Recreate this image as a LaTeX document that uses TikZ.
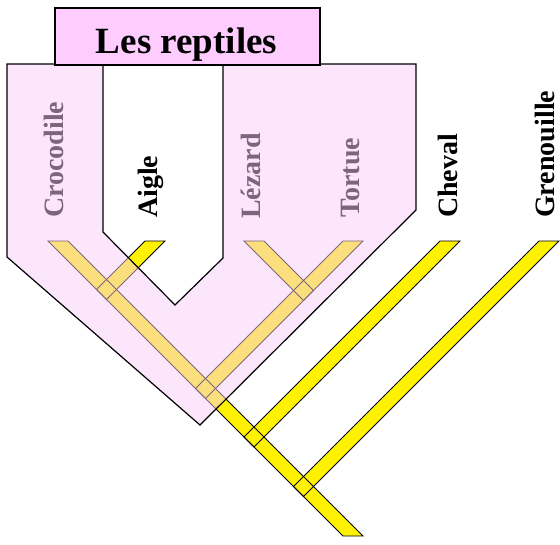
\documentclass[tikz,border=0pt]{standalone}
\usepackage{fontspec}
\setmainfont{Liberation Serif}
\usetikzlibrary{calc}
\definecolor{cladePink}{RGB}{250,205,250}
\definecolor{titlePink}{RGB}{255,204,255}

\begin{document}
\begin{tikzpicture}[x=1pt,y=-1pt]

    \tikzstyle{commonNode}=[font=\bfseries\fontsize{28}{30}\selectfont, inner sep=0pt]
    \tikzstyle{leaf}=[commonNode, rotate=90, anchor=west]
    \tikzstyle{title}=[commonNode, font=\bfseries\fontsize{37}{40}\selectfont, anchor=base]
    \tikzstyle{branch}=[fill=yellow]
    \tikzstyle{branchEdge}=[draw=black, line width=0.8pt]
    \tikzstyle{clade}=[fill=cladePink, fill opacity=0.5, even odd rule]
    \tikzstyle{cladeEdge}=[draw=black, line width=1.2pt]

    \useasboundingbox (0,0) rectangle (560,544);

    \begin{scope}
        % Tip height of every branch
        \def \tipY {241}

        % Branches: tip left/right, then the two lower corners
        \def \branches {48/68/363/536/343/536,
                        145/165/106.5/299.5/96.5/289.5,
                        244/264/313.5/290.5/303.5/300.5,
                        343/363/205.5/398.5/195.5/388.5,
                        440/460/254/447/244/437,
                        539/559/303.5/496.5/293.5/486.5}

        % Fill first, outlines after, so the crossings show
        \foreach \xl/\xr/\cx/\cy/\dx/\dy in \branches
            \fill[branch] (\xl,\tipY) -- (\xr,\tipY) -- (\cx,\cy) -- (\dx,\dy) -- cycle;
        \foreach \xl/\xr/\cx/\cy/\dx/\dy in \branches
            \draw[branchEdge] (\xl,\tipY) -- (\xr,\tipY) -- (\cx,\cy) -- (\dx,\dy) -- cycle;

        % Leaves
        \node at (54,218)  [leaf] (croc)   {Crocodile};
        \node at (151,218) [leaf] (aigle)  {Aigle};
        \node at (251,219) [leaf] (lezard) {Lézard};
        \node at (351,218) [leaf] (tortue) {Tortue};
        \node at (448,218) [leaf] (cheval) {Cheval};
        \node at (545,218) [leaf] (gren)   {Grenouille};

        % Reptile group, with the bird cut out
        \coordinate (cTL) at (7,64);
        \coordinate (cTR) at (416,64);
        \coordinate (cR)  at (416,210);
        \coordinate (cB)  at (200,425);
        \coordinate (cL)  at (7,257);
        \coordinate (oTL) at (103,64);
        \coordinate (oTR) at (223,64);
        \coordinate (oR)  at (223,258);
        \coordinate (oB)  at (175,305);
        \coordinate (oL)  at (103,232);
        \fill[clade] (cTL) -- (cTR) -- (cR) -- (cB) -- (cL) -- cycle
                     (oTL) -- (oTR) -- (oR) -- (oB) -- (oL) -- cycle;
        \draw[cladeEdge] (cTL) -- (cTR) -- (cR) -- (cB) -- (cL) -- cycle;
        \draw[cladeEdge] (oTL) -- (oTR) -- (oR) -- (oB) -- (oL) -- cycle;

        % Title
        \draw[fill=titlePink, line width=1.5pt] (55,8) rectangle (320,65);
        \node at (186.5,53) [title] (titre) {Les reptiles};
    \end{scope}

\end{tikzpicture}
\end{document}
